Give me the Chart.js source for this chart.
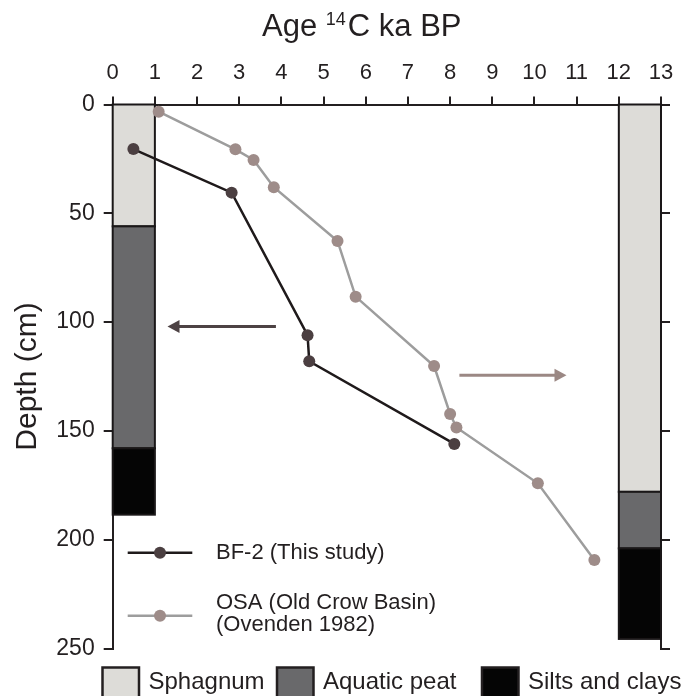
<!DOCTYPE html>
<html>
<head>
<meta charset="utf-8">
<script src="https://cdn.jsdelivr.net/npm/chart.js@4.4.0/dist/chart.umd.min.js"></script>
<style>
  body { margin: 0; background: #fff; }
  #wrap { position: relative; width: 700px; height: 696px; }
  #title { position: absolute; left: 262px; top: 10px; font: 31px/31px "Liberation Sans", Arial, sans-serif; color: #231f20; white-space: nowrap; }
  #title span { font-size: 18px; position: relative; top: -11px; margin-right: 2px; }
</style>
</head>
<body>
<div id="wrap">
  <canvas id="chart" width="700" height="696"></canvas>
  <div id="title">Age <span>14</span>C ka BP</div>
</div>
<script>
// radiocarbon ages (ka BP) vs depth (cm)
const bf2Age = [0.49, 2.82, 4.62, 4.66, 8.10];
const bf2Depth = [20.5, 40.5, 106, 118, 156];
const osaAge = [1.09, 2.91, 3.34, 3.82, 5.33, 5.76, 7.62, 8.00, 8.15, 10.08, 11.42];
const osaDepth = [3.3, 20.6, 25.5, 38, 62.7, 88.3, 120.2, 142.2, 148.4, 174.1, 209.3];

// stratigraphic columns: age span on x, layer depth ranges
const lithologyNames = ['Sphagnum', 'Aquatic peat', 'Silts and clays'];
const bf2ColumnAge = [0, 1];
const bf2Layers = [[0, 56], [56, 158], [158, 188.5]];
const osaColumnAge = [12, 13];
const osaLayers = [[0, 178], [178, 204], [204, 245.6]];

// arrows pointing each curve to its column (age, depth)
const arrowBf2 = [[3.87, 102], [1.30, 102]];
const arrowOsa = [[8.22, 124.4], [10.76, 124.4]];

const ageTicks = [0, 1, 2, 3, 4, 5, 6, 7, 8, 9, 10, 11, 12, 13];
const depthTicks = [0, 50, 100, 150, 200, 250];

const ink = '#231f20';
const FONT = '"Liberation Sans", Arial, sans-serif';
const lithologyFill = ['#dddcd8', '#69696b', '#050505'];

const columnsPlugin = {
  id: 'columns',
  beforeDatasetsDraw(chart) {
    const { ctx, scales: { x, y } } = chart;
    ctx.save();
    ctx.lineWidth = 2;
    ctx.strokeStyle = '#1a1718';
    [[bf2ColumnAge, bf2Layers], [osaColumnAge, osaLayers]].forEach(([span, layers]) => {
      const x0 = x.getPixelForValue(span[0]);
      const x1 = x.getPixelForValue(span[1]);
      layers.forEach(([d0, d1], i) => {
        const y0 = y.getPixelForValue(d0);
        const y1 = y.getPixelForValue(d1);
        ctx.fillStyle = lithologyFill[i];
        ctx.fillRect(x0, y0, x1 - x0, y1 - y0);
        ctx.strokeRect(x0, y0, x1 - x0, y1 - y0);
      });
    });
    ctx.restore();
  }
};

const arrowsPlugin = {
  id: 'arrows',
  afterDatasetsDraw(chart) {
    const { ctx, scales: { x, y } } = chart;
    [[arrowBf2, '#4d4244'], [arrowOsa, '#9b8884']].forEach(([a, color]) => {
      const sx = x.getPixelForValue(a[0][0]), sy = y.getPixelForValue(a[0][1]);
      const ex = x.getPixelForValue(a[1][0]), ey = y.getPixelForValue(a[1][1]);
      const dir = Math.sign(ex - sx);
      ctx.save();
      ctx.strokeStyle = color;
      ctx.fillStyle = color;
      ctx.lineWidth = 3;
      ctx.beginPath();
      ctx.moveTo(sx, sy);
      ctx.lineTo(ex - dir * 10, ey);
      ctx.stroke();
      ctx.beginPath();
      ctx.moveTo(ex, ey);
      ctx.lineTo(ex - dir * 12, ey - 6.5);
      ctx.lineTo(ex - dir * 12, ey + 6.5);
      ctx.closePath();
      ctx.fill();
      ctx.restore();
    });
  }
};

const legendsPlugin = {
  id: 'legends',
  afterDraw(chart) {
    const { ctx } = chart;
    ctx.save();
    // series legend inside the plot
    const rows = [
      { ds: chart.data.datasets[0], y: 552.7, lines: ['BF-2 (This study)'], ty: [553] },
      { ds: chart.data.datasets[1], y: 615.7, lines: ['OSA (Old Crow Basin)', '(Ovenden 1982)'], ty: [603, 625] }
    ];
    ctx.font = '22px ' + FONT;
    ctx.textBaseline = 'middle';
    ctx.textAlign = 'left';
    rows.forEach(r => {
      ctx.strokeStyle = r.ds.borderColor;
      ctx.lineWidth = 2.5;
      ctx.beginPath();
      ctx.moveTo(127.7, r.y);
      ctx.lineTo(192.3, r.y);
      ctx.stroke();
      ctx.fillStyle = r.ds.pointBackgroundColor;
      ctx.beginPath();
      ctx.arc(160, r.y, 6, 0, Math.PI * 2);
      ctx.fill();
      ctx.fillStyle = ink;
      r.lines.forEach((t, i) => ctx.fillText(t, 216, r.ty[i]));
    });
    // lithology legend below the plot
    const boxX = [102.5, 277, 482];
    ctx.font = '24px ' + FONT;
    lithologyNames.forEach((name, i) => {
      ctx.fillStyle = lithologyFill[i];
      ctx.fillRect(boxX[i], 667.5, 36.5, 32);
      ctx.strokeStyle = ink;
      ctx.lineWidth = 2.5;
      ctx.strokeRect(boxX[i], 667.5, 36.5, 32);
      ctx.fillStyle = ink;
      ctx.fillText(name, boxX[i] + 46, 682);
    });
    ctx.restore();
  }
};

const axisGrid = { drawOnChartArea: false, drawTicks: true, tickLength: 9, color: ink, lineWidth: 2 };
const axisBorder = { display: true, color: ink, width: 2 };

new Chart(document.getElementById('chart'), {
  type: 'scatter',
  data: {
    datasets: [
      {
        label: 'BF-2 (This study)',
        data: bf2Age.map((a, i) => ({ x: a, y: bf2Depth[i] })),
        showLine: true,
        borderColor: '#1f1a1b',
        borderWidth: 2.5,
        pointBackgroundColor: '#4b3f41',
        pointBorderWidth: 0,
        pointRadius: 6,
        yAxisID: 'y'
      },
      {
        label: 'OSA (Old Crow Basin) (Ovenden 1982)',
        data: osaAge.map((a, i) => ({ x: a, y: osaDepth[i] })),
        showLine: true,
        borderColor: '#9d9d9d',
        borderWidth: 2.5,
        pointBackgroundColor: '#9e8c89',
        pointBorderWidth: 0,
        pointRadius: 6,
        yAxisID: 'y'
      }
    ]
  },
  options: {
    responsive: false,
    animation: false,
    devicePixelRatio: 1,
    layout: { padding: { top: 0, left: 0, right: 0, bottom: 47.5 } },
    plugins: { legend: { display: false }, tooltip: { enabled: false } },
    scales: {
      x: {
        type: 'linear',
        position: 'top',
        min: 0,
        max: 13,
        afterBuildTicks: s => { s.ticks = ageTicks.map(v => ({ value: v })); },
        afterFit: s => { s.height = 104.5; },
        ticks: { color: ink, font: { family: FONT, size: 22 }, padding: 10, maxRotation: 0 },
        grid: { ...axisGrid, tickLength: 8 },
        border: axisBorder
      },
      y: {
        type: 'linear',
        position: 'left',
        reverse: true,
        min: 0,
        max: 250,
        afterBuildTicks: s => { s.ticks = depthTicks.map(v => ({ value: v })); },
        afterFit: s => { s.width = 112.7; },
        ticks: { color: ink, font: { family: FONT, size: 23 }, padding: 9 },
        grid: axisGrid,
        border: axisBorder,
        title: { display: true, text: 'Depth (cm)', color: ink, font: { family: FONT, size: 30 }, padding: { top: 10, bottom: 0 } }
      },
      y2: {
        type: 'linear',
        position: 'right',
        reverse: true,
        min: 0,
        max: 250,
        afterBuildTicks: s => { s.ticks = depthTicks.map(v => ({ value: v })); },
        afterFit: s => { s.width = 39; },
        ticks: { display: false },
        grid: axisGrid,
        border: axisBorder
      }
    }
  },
  plugins: [columnsPlugin, arrowsPlugin, legendsPlugin]
});
</script>
</body>
</html>
